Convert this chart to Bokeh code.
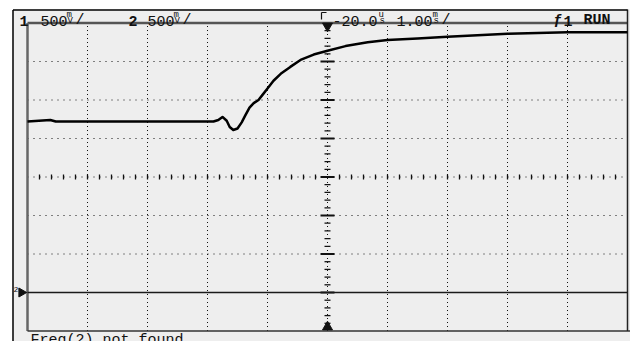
from math import pi
from bokeh.plotting import figure
from bokeh.models import Range1d, Label
from bokeh.embed import file_html
from bokeh.resources import INLINE

# ---- data (time in ms, volts) ----
ch1_time_ms = [-5.0, -4.62, -4.53, -1.9, -1.82, -1.75, -1.68, -1.63, -1.57, -1.5,
               -1.43, -1.37, -1.3, -1.23, -1.15, -1.08, -1.0, -0.9, -0.78, -0.62,
               -0.45, -0.23, 0.0, 0.3, 0.67, 1.0, 1.5, 2.0, 2.5, 3.0,
               3.5, 4.0, 4.5, 5.0]
ch1_volts = [0.72, 0.74, 0.72, 0.72, 0.74, 0.78, 0.73, 0.65, 0.61, 0.63,
             0.71, 0.80, 0.90, 0.96, 1.00, 1.07, 1.15, 1.25, 1.34, 1.43,
             1.52, 1.59, 1.64, 1.70, 1.75, 1.78, 1.80, 1.82, 1.84, 1.86,
             1.87, 1.88, 1.88, 1.88]
ch2_time_ms = [-5.0, 5.0]
ch2_volts = [0.0, 0.0]
ch2_offset_v = -1.5

volts_per_div = 0.5
ms_per_div = 1.0
h_divs = [-5, -4, -3, -2, -1, 0, 1, 2, 3, 4, 5]
v_divs = [-4, -3, -2, -1, 0, 1, 2, 3, 4]

# ---- screen geometry ----
W, H = 630, 341
T0_PX, PX_PER_MS = 327.0, 60.0
Y0_PX, PX_PER_V = 176.5, 77.0


def X(px):
    return (px - T0_PX) / PX_PER_MS


def Y(py):
    return (Y0_PX - py) / PX_PER_V


p = figure(width=W, height=H, x_range=Range1d(X(0), X(W)), y_range=Range1d(Y(H), Y(0)),
           output_backend="svg", toolbar_location=None, min_border=0,
           x_axis_location=None, y_axis_location=None, outline_line_color=None,
           background_fill_color="white", border_fill_color="white")
p.xgrid.visible = False
p.ygrid.visible = False

BG = "#eeeeee"
INK = "#111111"
FONT = "Liberation Mono"

# panel background
p.quad(left=[X(12)], right=[X(W)], top=[Y(9)], bottom=[Y(H)], fill_color=BG, line_color=None)

tmin, tmax = h_divs[0] * ms_per_div, h_divs[-1] * ms_per_div
vmin, vmax = v_divs[0] * volts_per_div, v_divs[-1] * volts_per_div

# dotted graticule
vx = [d * ms_per_div for d in h_divs[1:-1] if d != 0]
p.segment(x0=vx, x1=vx, y0=[vmin] * len(vx), y1=[vmax] * len(vx),
          line_color=INK, line_width=1, line_dash="1 3")
hy = [d * volts_per_div for d in v_divs[1:-1] if d != 0]
p.segment(x0=[tmin] * len(hy), x1=[tmax] * len(hy), y0=hy, y1=hy,
          line_color=INK, line_width=1, line_dash="1 5")

# center axes with minor ticks
p.segment(x0=[tmin], x1=[tmax], y0=[0], y1=[0], line_color=INK, line_width=1, line_dash="1 5")
p.segment(x0=[0], x1=[0], y0=[vmin], y1=[vmax], line_color=INK, line_width=1, line_dash="1 3")
tick_t = [k * ms_per_div / 5 for k in range(-24, 25) if k != 0]
p.segment(x0=tick_t, x1=tick_t, y0=[-2.5 / PX_PER_V] * len(tick_t), y1=[2.5 / PX_PER_V] * len(tick_t),
          line_color=INK, line_width=1.3)
tick_v = [k * volts_per_div / 5 for k in range(-19, 20) if k % 5 != 0]
p.segment(x0=[-3 / PX_PER_MS] * len(tick_v), x1=[3 / PX_PER_MS] * len(tick_v), y0=tick_v, y1=tick_v,
          line_color=INK, line_width=1.3)
maj_v = [d * volts_per_div for d in v_divs[1:-1]]
p.segment(x0=[-7 / PX_PER_MS] * len(maj_v), x1=[7 / PX_PER_MS] * len(maj_v), y0=maj_v, y1=maj_v,
          line_color=INK, line_width=2)

# frame borders
p.segment(x0=[tmin], x1=[tmax], y0=[vmax], y1=[vmax], line_color="#555555", line_width=2.5)
p.segment(x0=[tmin], x1=[tmin], y0=[vmin], y1=[vmax], line_color="#666666", line_width=2.5)
p.segment(x0=[tmin], x1=[X(W)], y0=[vmin], y1=[vmin], line_color="#333333", line_width=1.5)
p.segment(x0=[tmax], x1=[tmax], y0=[vmin], y1=[Y(9)], line_color="#222222", line_width=1.5)
p.segment(x0=[X(12.5)], x1=[X(12.5)], y0=[Y(H)], y1=[Y(9.5)], line_color="#000000", line_width=1.5)
p.segment(x0=[X(12.5)], x1=[tmax], y0=[Y(9.5)], y1=[Y(9.5)], line_color="#000000", line_width=1.5)

# markers
p.scatter(x=[0], y=[vmax - 3 / PX_PER_V], marker="inverted_triangle", size=10, color=INK)
p.scatter(x=[0], y=[vmin + 4 / PX_PER_V], marker="triangle", size=10, color=INK)
p.scatter(x=[X(21)], y=[ch2_offset_v], marker="triangle", angle=-pi / 2, size=9, color=INK)

# traces
p.line(ch2_time_ms, [v + ch2_offset_v for v in ch2_volts], line_color="#1a1a1a", line_width=1.6)
p.line(ch1_time_ms, ch1_volts, line_color="#000000", line_width=2.5, line_join="round")


def lab(px, py, text, size=15, bold=False, color=INK):
    p.add_layout(Label(x=X(px), y=Y(py), text=text, text_font=FONT, text_font_size=f"{size}px",
                       text_font_style="bold" if bold else "normal", text_color=color,
                       text_baseline="alphabetic", text_align="left"))


def unit(px, top, bottom):
    lab(px, 14.5, top, size=9)
    lab(px + 1, 20.5, bottom, size=9)


HB = 20  # header baseline
lab(19, HB, "1", bold=True)
lab(40, HB, "500")
unit(66, "m", "V")
lab(75, HB, "/")
lab(128, HB, "2", bold=True)
lab(147, HB, "500")
unit(173, "m", "V")
lab(182, HB, "/")

# trigger delay indicator
p.segment(x0=[X(321)], x1=[X(321)], y0=[Y(12)], y1=[Y(19)], line_color=INK, line_width=1.2)
p.segment(x0=[X(321)], x1=[X(326)], y0=[Y(12)], y1=[Y(12)], line_color=INK, line_width=1.2)
lab(332, HB, "-20.0")
unit(378, "u", "s")
lab(396, HB, "1.00")
unit(432, "m", "s")
lab(441, HB, "/")
lab(553, HB, "\u0192", bold=True)
lab(563, HB, "1", bold=True)
lab(583, HB, "RUN", bold=True)

lab(13, 289, "2", size=8)
lab(30, 340, "Freq(2) not found", size=15)

open("out.html", "w").write(file_html(p, INLINE))
